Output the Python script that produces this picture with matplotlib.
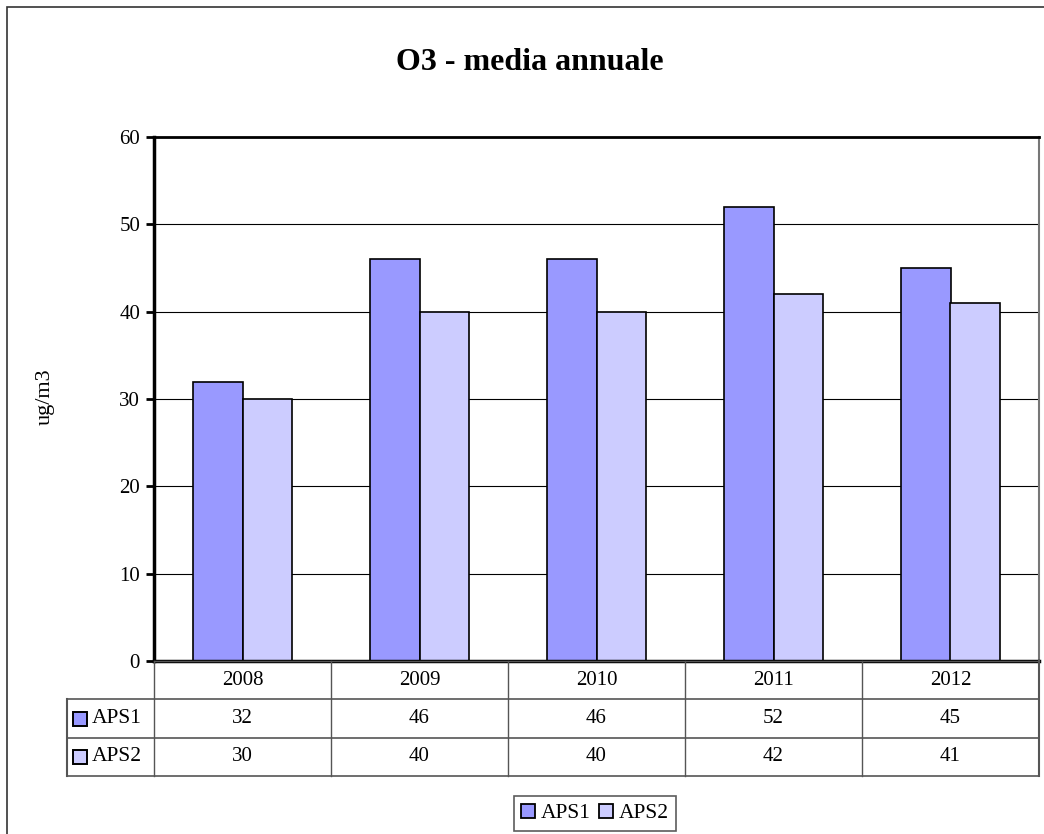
import matplotlib.pyplot as plt
from matplotlib.patches import Patch, Rectangle
import numpy as np

plt.rcParams['font.family'] = ['Liberation Serif', 'DejaVu Serif']

years = ['2008', '2009', '2010', '2011', '2012']
aps1 = [32, 46, 46, 52, 45]
aps2 = [30, 40, 40, 42, 41]
series = ['APS1', 'APS2']
colors = ['#9999FF', '#CCCCFF']

W, H = 1044, 834
fig = plt.figure(figsize=(W / 100, H / 100), dpi=100)

# outer chart border
fig.patches.append(Rectangle((7 / W, -0.1), 1.2, 1 - 7 / H + 0.1, transform=fig.transFigure,
                             fill=False, edgecolor='#333333', lw=1.2))

# plot area
L, R, T, B = 154, 1039, 137, 661
ax = fig.add_axes([L / W, 1 - B / H, (R - L) / W, (B - T) / H])
x = np.arange(len(years))
bw = 0.28
ax.bar(x - bw / 2, aps1, bw, color=colors[0], edgecolor='black', lw=1.2, zorder=3)
ax.bar(x + bw / 2, aps2, bw, color=colors[1], edgecolor='black', lw=1.2, zorder=3)
ax.set_xlim(-0.5, len(years) - 0.5)
ax.set_ylim(0, 60)
ax.set_yticks(range(0, 61, 10))
ax.tick_params(axis='y', labelsize=15, length=6, width=2, direction='out', pad=4)
ax.set_xticks([])
ax.yaxis.grid(True, color='black', lw=0.8, zorder=0)
ax.spines['top'].set_color('black')
ax.spines['top'].set_linewidth(2)
ax.spines['right'].set_color('#777777')
ax.spines['right'].set_linewidth(1.5)
ax.spines['left'].set_linewidth(2.5)
ax.spines['bottom'].set_linewidth(2.5)
ax.spines['bottom'].set_zorder(5)

fig.text(45 / W, 1 - 397 / H, 'ug/m3', fontsize=16, rotation=90, ha='center', va='center')
fig.text(530 / W, 1 - 62 / H, 'O3 - media annuale', fontsize=23, fontweight='bold',
         ha='center', va='center')

# data table below the axis
TL, TB = 67, 776
tax = fig.add_axes([TL / W, 1 - TB / H, (R - TL) / W, (TB - B) / H])
unit = (R - L) / len(years)
x0 = -0.5 - (L - TL) / unit
tax.set_xlim(x0, len(years) - 0.5)
tax.set_ylim(0, 3)
tax.axis('off')
edge = '#555555'
# horizontal lines
tax.plot([-0.5, len(years) - 0.5], [3, 3], color=edge, lw=1, clip_on=False)
for yy in [2, 1, 0]:
    tax.plot([x0, len(years) - 0.5], [yy, yy], color=edge, lw=1.2, clip_on=False)
# vertical lines
tax.plot([x0, x0], [0, 2], color=edge, lw=1.5, clip_on=False)
tax.plot([len(years) - 0.5] * 2, [0, 3], color=edge, lw=1.5, clip_on=False)
for i in range(len(years)):
    tax.plot([i - 0.5, i - 0.5], [0, 3], color=edge, lw=1, clip_on=False)
for i, yr in enumerate(years):
    tax.text(i, 2.5, yr, ha='center', va='center', fontsize=15)
    tax.text(i, 1.5, str(aps1[i]), ha='center', va='center', fontsize=15)
    tax.text(i, 0.5, str(aps2[i]), ha='center', va='center', fontsize=15)
for row, (name, c) in enumerate(zip(series, colors)):
    yy = 1.5 - row
    tax.plot([x0 + (13 / unit)], [yy], marker='s', ms=9.5, mfc=c, mec='black', mew=1.4,
             clip_on=False)
    tax.text(x0 + (25 / unit), yy, name, ha='left', va='center', fontsize=15.5)

handles = [Patch(facecolor=c, edgecolor='black', lw=1.3) for c in colors]
leg = fig.legend(handles, series, loc='upper center', bbox_to_anchor=(595 / W, 1 - 796 / H),
                 ncol=2, fontsize=15.5, frameon=True, fancybox=False, edgecolor='#333333',
                 handlelength=0.65, handleheight=0.65, handletextpad=0.25, columnspacing=0.4,
                 borderpad=0.35, borderaxespad=0)
leg.get_frame().set_linewidth(1.2)

fig.savefig('out.png', dpi=100)
